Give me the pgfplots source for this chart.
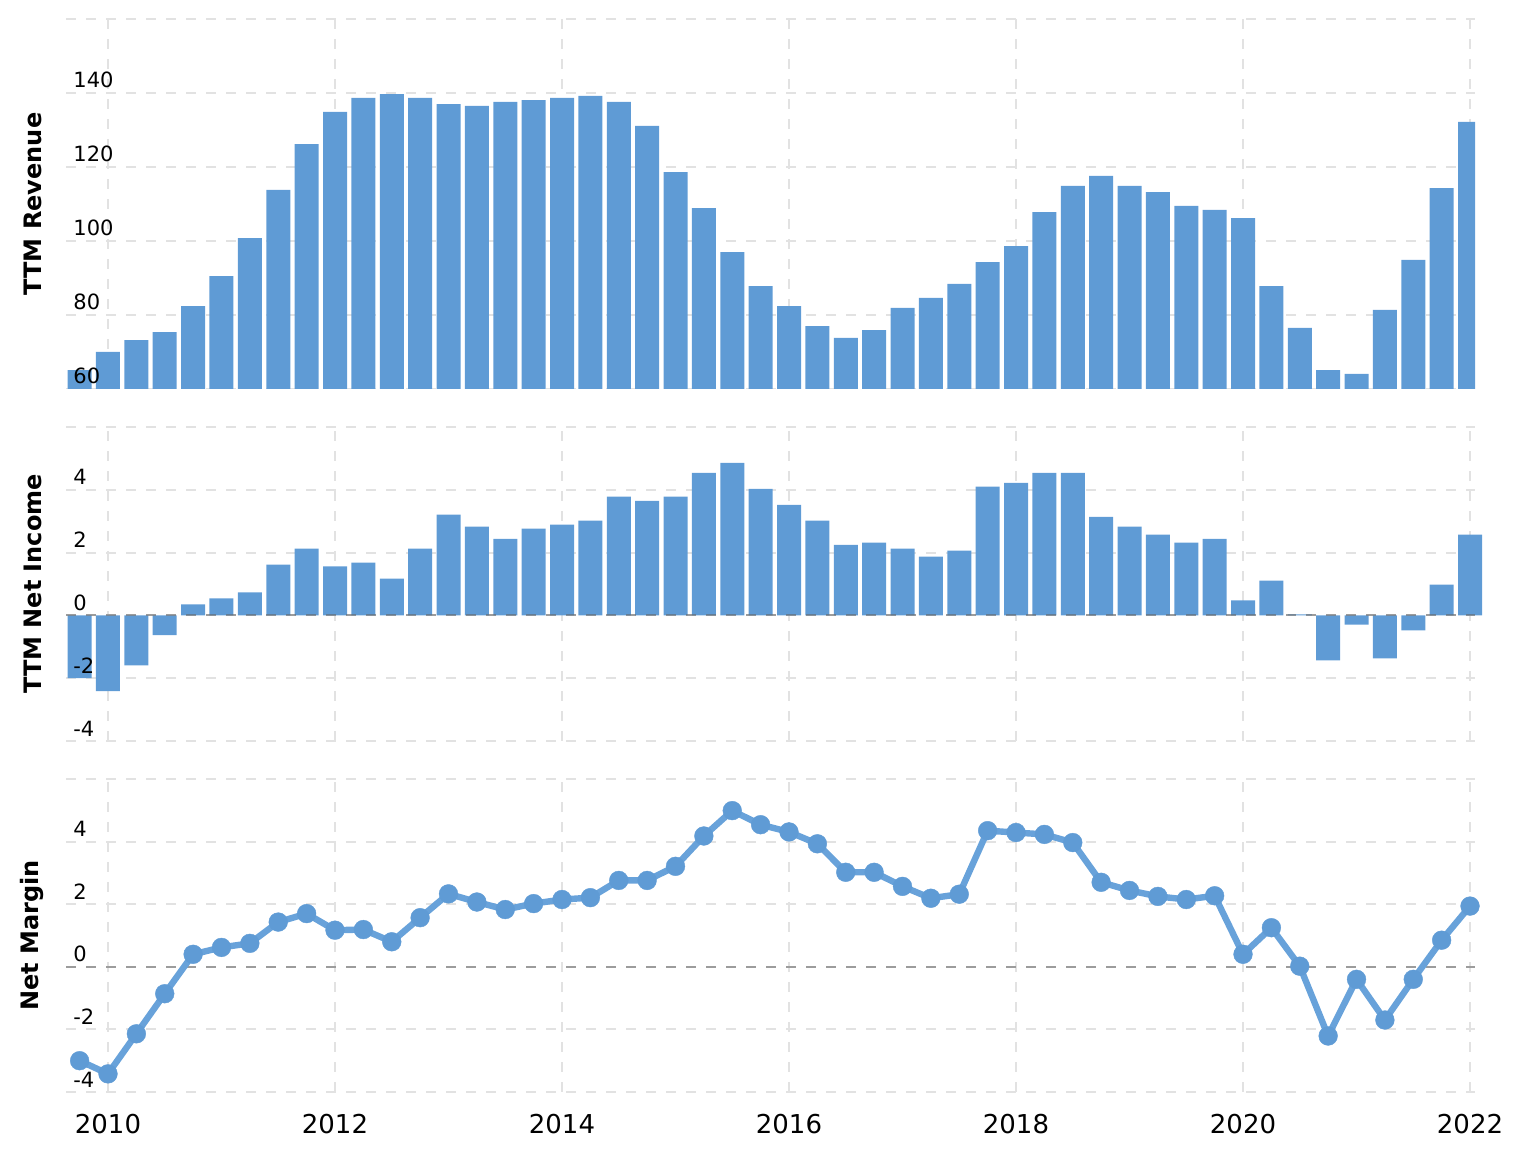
\documentclass[border=0pt]{standalone}
\usepackage{fontspec}
\setmainfont{DejaVu Sans}
\usepackage{pgfplots}
\usepackage{pgfplotstable}
\pgfplotsset{compat=1.18}

\definecolor{barblue}{RGB}{95,155,213}
\definecolor{lineblue}{RGB}{104,162,218}
\definecolor{gridgray}{RGB}{226,226,226}
\definecolor{zerogray}{RGB}{100,100,100}

% quarter, TTM revenue, TTM net income, net margin
\pgfplotstableread{
x       rev    ni     nm
2009.75 65.1  -2.00  -3.00
2010.00 70.0  -2.41  -3.42
2010.25 73.2  -1.59  -2.14
2010.50 75.4  -0.63  -0.86
2010.75 82.4   0.35   0.40
2011.00 90.5   0.54   0.62
2011.25 100.8  0.73   0.75
2011.50 113.8  1.62   1.43
2011.75 126.2  2.13   1.70
2012.00 134.9  1.56   1.17
2012.25 138.7  1.68   1.19
2012.50 139.7  1.17   0.80
2012.75 138.7  2.13   1.57
2013.00 137.0  3.21   2.33
2013.25 136.5  2.83   2.07
2013.50 137.6  2.44   1.83
2013.75 138.1  2.76   2.02
2014.00 138.7  2.89   2.15
2014.25 139.2  3.02   2.21
2014.50 137.6  3.78   2.76
2014.75 131.1  3.65   2.76
2015.00 118.6  3.78   3.21
2015.25 108.9  4.54   4.18
2015.50 97.0   4.86   4.99
2015.75 87.8   4.03   4.54
2016.00 82.4   3.52   4.31
2016.25 77.0   3.02   3.93
2016.50 73.8   2.25   3.02
2016.75 75.9   2.32   3.02
2017.00 81.9   2.13   2.57
2017.25 84.6   1.87   2.19
2017.50 88.4   2.06   2.32
2017.75 94.3   4.10   4.35
2018.00 98.6   4.22   4.29
2018.25 107.8  4.54   4.23
2018.50 114.9  4.54   3.97
2018.75 117.6  3.14   2.70
2019.00 114.9  2.83   2.44
2019.25 113.2  2.57   2.25
2019.50 109.5  2.32   2.15
2019.75 108.4  2.44   2.27
2020.00 106.2  0.48   0.40
2020.25 87.8   1.11   1.25
2020.50 76.5   0.03   0.02
2020.75 65.1  -1.43  -2.21
2021.00 64.1  -0.29  -0.40
2021.25 81.4  -1.37  -1.70
2021.50 94.9  -0.48  -0.40
2021.75 114.3  0.98   0.85
2022.00 132.2  2.57   1.94
}\dat

\tikzset{
  gridline/.style={gridgray, line width=1pt, dash pattern=on 5pt off 5pt},
  zeroline/.style={zerogray, opacity=0.55, line width=1pt, dash pattern=on 5pt off 5pt},
}

\def\xmn{2009.63}
\def\xmx{2022.044}

% grid drawn by hand under the data, so that the tick labels (axis on top) sit over the bars
\newcommand\panelgrid[3]{%
  \pgfplotsinvokeforeach{#1}{\draw[gridline] (axis cs:\xmn,##1) -- (axis cs:\xmx,##1);}%
  \pgfplotsinvokeforeach{2010,2012,...,2022}{\draw[gridline] (axis cs:##1,#2) -- (axis cs:##1,#3);}%
}

\pgfplotsset{
  panel/.style={
    axis on top,
    scale only axis, width=704.5pt, anchor=south west,
    xmin=\xmn, xmax=\xmx,
    axis line style={draw=none},
    tick style={draw=none},
    xtick={2010,2012,...,2022},
    xticklabels={},
    yticklabel style={anchor=base west, inner sep=0pt, xshift=3.5pt, yshift=2.5pt,
      font=\fontsize{10.5}{12}\selectfont},
    every axis y label/.style={at={(axis description cs:-0.0238,0.5)}, rotate=90,
      anchor=center, font=\fontsize{12}{14}\selectfont\bfseries},
  },
}

\begin{document}
\begin{tikzpicture}
\path[use as bounding box] (0,0) rectangle (759pt,-577pt);

% TTM revenue
\begin{axis}[panel, at={(33pt,-194.5pt)}, height=185pt,
  ymin=60, ymax=160, ytick={60,80,...,160}, yticklabels={60,80,100,120,140,{}},
  ylabel={TTM Revenue}]
\panelgrid{60,80,...,160}{60}{160}
\addplot[ybar, bar width=12pt, fill=barblue, draw=none] table[x=x, y=rev] {\dat};
\end{axis}

% TTM net income
\begin{axis}[panel, at={(33pt,-370.5pt)}, height=157pt, clip=false,
  ymin=-4, ymax=6, ytick={-4,-2,...,6}, yticklabels={-4,-2,0,2,4,{}},
  ylabel={TTM Net Income}]
\panelgrid{-4,-2,...,6}{-4}{6}
\addplot[ybar, bar width=12pt, fill=barblue, draw=none] table[x=x, y=ni] {\dat};
\draw[zeroline] (axis cs:\xmn,0) -- (axis cs:\xmx,0);
\end{axis}

% net margin
\begin{axis}[panel, at={(33pt,-546pt)}, height=156.5pt, clip=false,
  ymin=-4, ymax=6, ytick={-4,-2,...,6}, yticklabels={-4,-2,0,2,4,{}},
  xticklabels={2010,2012,2014,2016,2018,2020,2022},
  xticklabel style={anchor=base, inner sep=0pt, yshift=-20.5pt,
    font=\fontsize{13}{15}\selectfont},
  ylabel={Net Margin}]
\panelgrid{-4,-2,...,6}{-4}{6}
\draw[zeroline] (axis cs:\xmn,0) -- (axis cs:\xmx,0);
\addplot[lineblue, line width=3.2pt, mark=*, mark size=4.7pt,
  mark options={solid, fill=barblue, draw=barblue, line width=0.2pt}] table[x=x, y=nm] {\dat};
\end{axis}
\end{tikzpicture}
\end{document}
